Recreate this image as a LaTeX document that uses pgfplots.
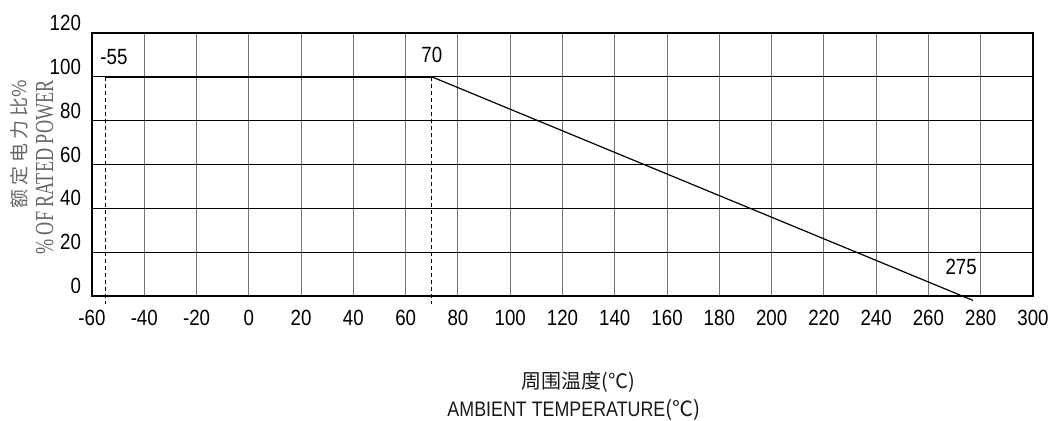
\documentclass[border=0pt]{standalone}
\usepackage{pgfplots}
\pgfplotsset{compat=1.18}
\usepackage{fontspec}
\setmainfont{Liberation Sans}
\newfontfamily\tickfont[FakeStretch=0.85]{Liberation Sans}
\newfontfamily\labfont[FakeStretch=0.85]{Liberation Sans}
\newfontfamily\cjk{Noto Sans CJK SC}
\newfontfamily\serifnarrow[FakeStretch=0.7]{Liberation Serif}
\begin{document}
\begin{tikzpicture}
\path[use as bounding box] (-46pt,-62.5pt) rectangle (481pt,148pt);
\begin{axis}[
  scale only axis, width=470.5pt, height=131.5pt,
  xmin=-60, xmax=300, ymin=0, ymax=120,
  xtick={-60,-40,...,300}, ytick={0,20,...,120},
  grid=major,
  major x grid style={black!55, line width=0.5pt},
  major y grid style={black, line width=0.5pt},
  axis line style={black, line width=0.6pt},
  tick style={draw=none},
  /pgf/number format/assume math mode=true,
  ticklabel style={font=\tickfont\fontsize{11}{13}\selectfont, text=black},
  yticklabel style={yshift=5pt, xshift=-2pt},
  xticklabel style={yshift=-3.5pt},
  clip=false,
]
\addplot[black, line width=1pt] coordinates {(-55,100) (70,100)};
\addplot[black, line width=0.6pt] coordinates {(70,100) (277,-2)};
\addplot[black, line width=0.5pt, dash pattern=on 2pt off 1.5pt] coordinates {(-55,100) (-55,-3.6)};
\addplot[black, line width=0.5pt, dash pattern=on 2pt off 1.5pt] coordinates {(70,100) (70,-3.6)};
\node[font=\tickfont\fontsize{11}{13}\selectfont, text=black] at (axis cs:-51.6,109) {-55};
\node[font=\tickfont\fontsize{11}{13}\selectfont, text=black] at (axis cs:70,110) {70};
\node[font=\tickfont\fontsize{11}{13}\selectfont, text=black] at (axis cs:272.5,13.2) {275};
\end{axis}
\node[rotate=90, anchor=base east, text=black!60, inner sep=0pt, font=\cjk\fontsize{9.5}{11}\selectfont] at (-32.5pt,108pt) {额\hspace{2pt}定\hspace{2pt}电\hspace{2pt}力\hspace{2pt}比\%};
\node[rotate=90, anchor=base east, text=black!60, inner sep=0pt, font=\serifnarrow\fontsize{13}{15}\selectfont] at (-19.5pt,108pt) {\% OF RATED POWER};
\node[text=black!90, inner sep=0pt, font=\cjk\fontsize{10}{12}\selectfont] at (243pt,-43pt) {周围温度(℃)};
\node[text=black!90, inner sep=0pt, font=\labfont\fontsize{10.5}{12}\selectfont] at (241pt,-56.75pt) {AMBIENT TEMPERATURE{\cjk(℃)}};
\end{tikzpicture}
\end{document}
